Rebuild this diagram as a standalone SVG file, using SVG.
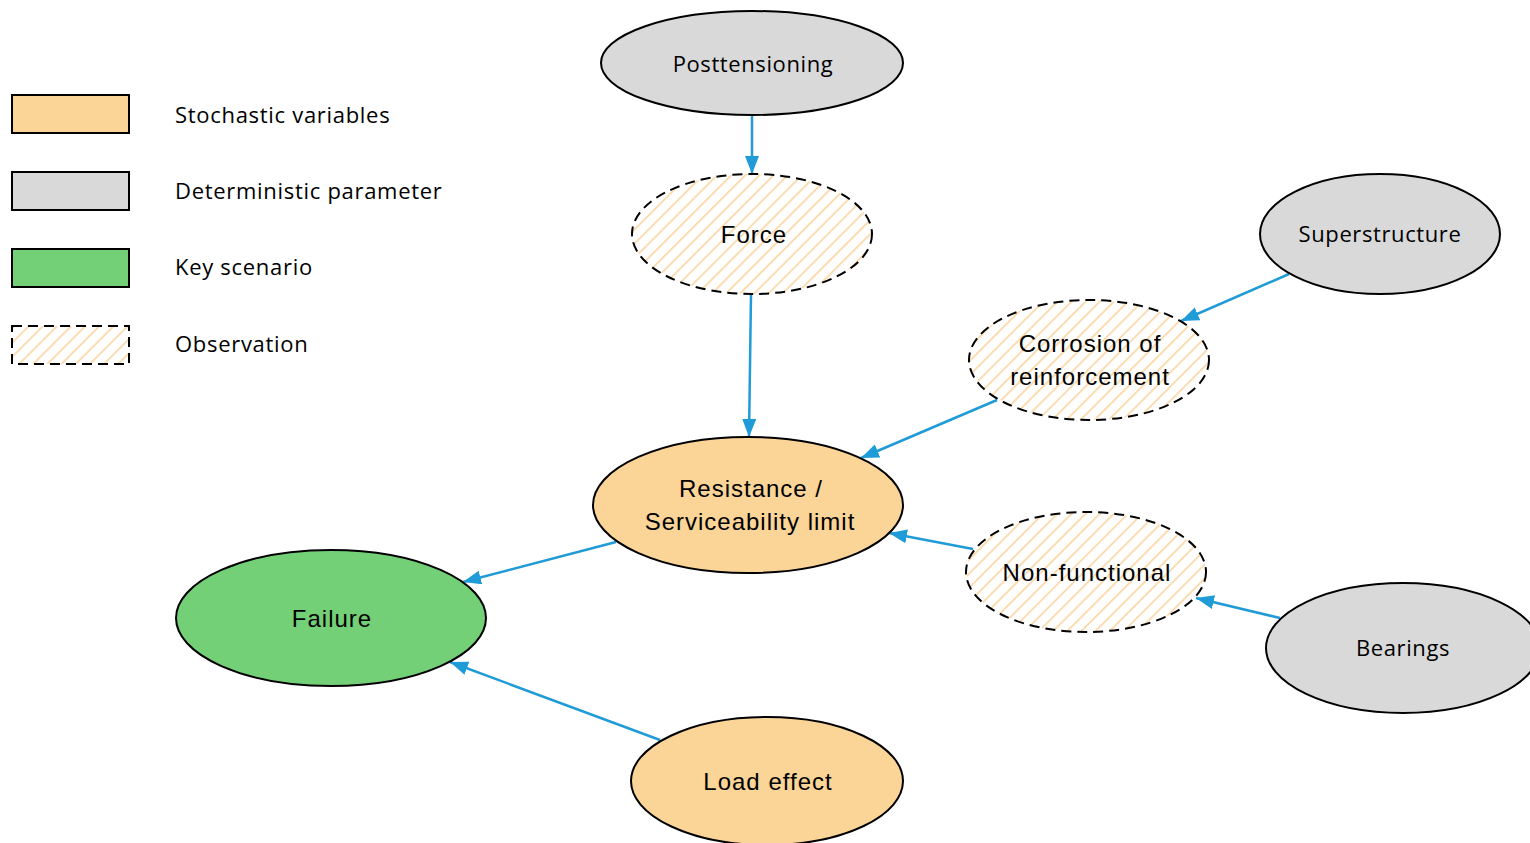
<svg xmlns="http://www.w3.org/2000/svg" width="1530" height="843" viewBox="0 0 1530 843">
<style>
text{fill:#000;}
.lbl{font-family:"Liberation Sans",Arial,sans-serif;font-size:24px;letter-spacing:1px;text-anchor:middle;}
.sm{font-family:"Open Sans","Noto Sans",sans-serif;font-size:22px;letter-spacing:0.6px;text-anchor:middle;}
.leg{font-family:"Open Sans","Noto Sans",sans-serif;font-size:22px;letter-spacing:0.7px;}
.stoch{fill:#FBD498;stroke:#000;stroke-width:2;}
.det{fill:#D9D9D9;stroke:#000;stroke-width:2;}
.key{fill:#74D077;stroke:#000;stroke-width:2;}
.obs{fill:url(#hatch);stroke:#000;stroke-width:2;stroke-dasharray:10 6;}
.edge{stroke:#1F9BD7;stroke-width:2.5;fill:none;marker-end:url(#arr);}
</style>
<defs>
<pattern id="hatch" patternUnits="userSpaceOnUse" width="10" height="10" patternTransform="rotate(45)">
<rect width="10" height="10" fill="#fff"/>
<line x1="0" y1="0" x2="0" y2="10" stroke="#FBD8A8" stroke-width="3.5"/>
</pattern>
<marker id="arr" markerUnits="userSpaceOnUse" markerWidth="20" markerHeight="16" refX="18" refY="7" orient="auto">
<path d="M0,0 L18,7 L0,14 Z" fill="#1F9BD7"/>
</marker>
</defs>
<g id="legend">
<rect class="stoch" x="12" y="95" width="117" height="38"/>
<text class="leg" x="175" y="123">Stochastic variables</text>
<rect class="det" x="12" y="172" width="117" height="38"/>
<text class="leg" x="175" y="199">Deterministic parameter</text>
<rect class="key" x="12" y="249" width="117" height="38"/>
<text class="leg" x="175" y="275">Key scenario</text>
<rect class="obs" x="12" y="326" width="117" height="38"/>
<text class="leg" x="175" y="352">Observation</text>
</g>
<g id="edges">
<line class="edge" x1="752" y1="116" x2="752" y2="174"/>
<line class="edge" x1="751" y1="294" x2="749" y2="437"/>
<line class="edge" x1="1289" y1="274" x2="1181" y2="321"/>
<line class="edge" x1="997" y1="400" x2="861" y2="458"/>
<line class="edge" x1="973" y1="549" x2="889" y2="533"/>
<line class="edge" x1="1280" y1="618" x2="1196" y2="598"/>
<line class="edge" x1="616" y1="542" x2="463" y2="582"/>
<line class="edge" x1="660" y1="740" x2="450" y2="662"/>
</g>
<g id="posttensioning">
<ellipse class="det" cx="752" cy="63" rx="151" ry="52"/>
<text class="sm" x="753" y="72">Posttensioning</text>
</g>
<g id="force">
<ellipse class="obs" cx="752" cy="234" rx="120" ry="60"/>
<text class="lbl" x="754" y="243">Force</text>
</g>
<g id="superstructure">
<ellipse class="det" cx="1380" cy="234" rx="120" ry="60"/>
<text class="sm" x="1380" y="242">Superstructure</text>
</g>
<g id="corrosion">
<ellipse class="obs" cx="1089" cy="360" rx="120" ry="60"/>
<text class="lbl" x="1090" y="352">Corrosion of</text>
<text class="lbl" x="1090" y="385">reinforcement</text>
</g>
<g id="resistance">
<ellipse class="stoch" cx="748" cy="505" rx="155" ry="68"/>
<text class="lbl" x="751" y="497">Resistance /</text>
<text class="lbl" x="750" y="530">Serviceability limit</text>
</g>
<g id="nonfunctional">
<ellipse class="obs" cx="1086" cy="572" rx="120" ry="60"/>
<text class="lbl" x="1087" y="581">Non-functional</text>
</g>
<g id="bearings">
<ellipse class="det" cx="1403" cy="648" rx="137" ry="65"/>
<text class="sm" x="1403" y="656">Bearings</text>
</g>
<g id="failure">
<ellipse class="key" cx="331" cy="618" rx="155" ry="68"/>
<text class="lbl" x="332" y="627">Failure</text>
</g>
<g id="loadeffect">
<ellipse class="stoch" cx="767" cy="781" rx="136" ry="64"/>
<text class="lbl" x="768" y="790">Load effect</text>
</g>
</svg>
